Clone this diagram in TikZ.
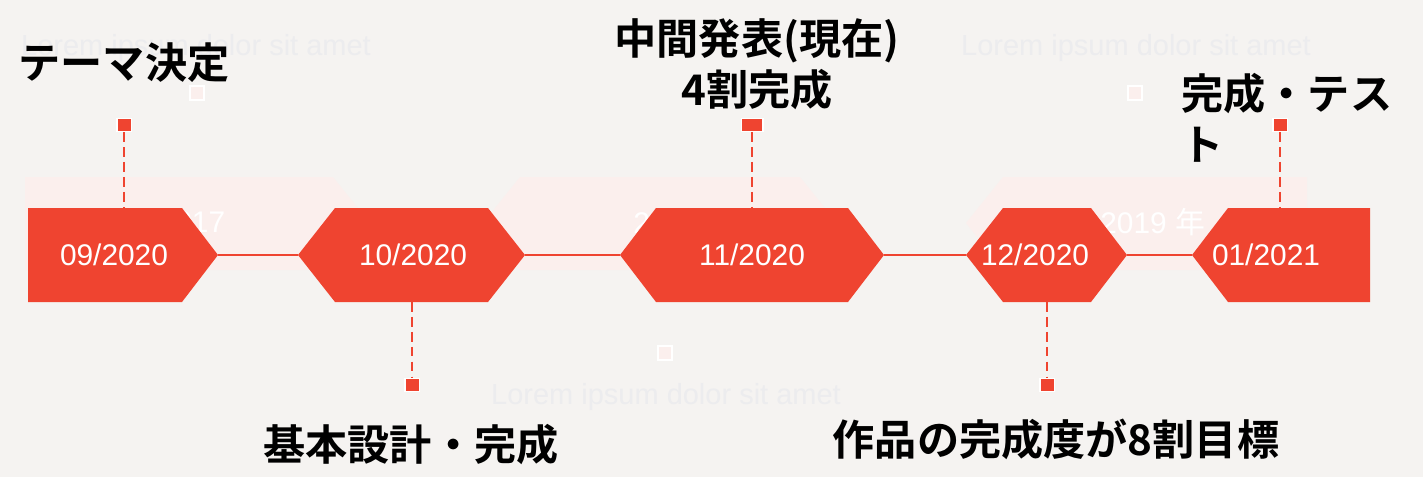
\documentclass[tikz,border=0pt]{standalone}
\usepackage{fontspec}
\setmainfont{Liberation Sans}
\newfontfamily\jpfont{Noto Sans CJK JP Bold}
\newfontfamily\jplight{Noto Sans CJK JP}
\usetikzlibrary{calc}
\definecolor{datered}{HTML}{EF4430}
\definecolor{paper}{HTML}{F5F3F1}
\definecolor{ghostpink}{HTML}{FBEFED}
\definecolor{ghostgrey}{HTML}{ECECEE}
\newcommand{\stage}[7]{\fill[datered] (#2,255) -- (#3,208) -- (#4,208) -- (#5,255) -- (#4,302) -- (#3,302) -- cycle;
  \coordinate (#1-l) at (#2,255); \coordinate (#1-r) at (#5,255);
  \node[datelabel] (#1) at (#6,255) {#7};}
\newcommand{\ghost}[4]{\fill[ghostpink] (#1,223) -- (#2,177) -- (#3,177) -- (#4,223) -- (#3,270) -- (#2,270) -- cycle;}

\begin{document}
\begin{tikzpicture}[x=0.02cm, y=-0.02cm,
    datelabel/.style={inner sep=0pt, text=white, font=\fontsize{17}{20}\selectfont},
    milestone/.style={inner sep=0pt, font=\jpfont\fontsize{24}{29}\selectfont},
    loremtext/.style={inner sep=0pt, text=ghostgrey, font=\fontsize{16.5}{20}\selectfont},
    yeartext/.style={inner sep=0pt, text=white, font=\fontsize{17}{20}\selectfont},
    marker/.style={draw=white, fill=datered, line width=0.6pt, inner sep=0pt, minimum width=8pt, minimum height=7.5pt},
    ghostbox/.style={draw=white, fill=ghostpink, line width=1.2pt, inner sep=0pt, minimum size=8pt},
    timeline/.style={datered, line width=1.7pt},
    leader/.style={datered, line width=1.1pt, dash pattern=on 5.5pt off 3pt}]
        \fill[paper] (0,0) rectangle (1423,477);
        \useasboundingbox (0,0) rectangle (1423,477);
        % faint background layer
        \ghost{25}{25}{333}{370}
        \ghost{483}{520}{800}{837}
        \ghost{966}{1003}{1307}{1307}
        \node[loremtext] (lorem1) at (196,48) {Lorem ipsum dolor sit amet};
        \node[loremtext] (lorem2) at (1136,48) {Lorem ipsum dolor sit amet};
        \node[loremtext] (lorem3) at (666,397) {Lorem ipsum dolor sit amet};
        \node[ghostbox] (g1) at (197,93) {};
        \node[ghostbox] (g2) at (1135,93) {};
        \node[ghostbox] (g3) at (665,353) {};
        \node[yeartext] (y1) at (192,222) {2017};
        \node[yeartext, anchor=west] (y2) at (633,222) {2018 {\jplight 年}};
        \node[yeartext, anchor=west] (y3) at (1100,222) {2019 {\jplight 年}};
        % stages
        \stage{s1}{28}{28}{182}{218}{114}{09/2020}
        \stage{s2}{298}{335}{488}{525}{413}{10/2020}
        \stage{s3}{620}{656}{848}{884}{752}{11/2020}
        \stage{s4}{966}{1003}{1091}{1127}{1035}{12/2020}
        \stage{s5}{1192}{1228}{1370}{1370}{1266}{01/2021}
        \draw[timeline] (s1-r) -- (s2-l);
        \draw[timeline] (s2-r) -- (s3-l);
        \draw[timeline] (s3-r) -- (s4-l);
        \draw[timeline] (s4-r) -- (s5-l);
        % markers
        \node[marker] (m1) at (124,125) {};
        \node[marker] (m2) at (412,385) {};
        \node[marker, minimum width=12.5pt] (m3) at (752,125) {};
        \node[marker] (m4) at (1047,385) {};
        \node[marker] (m5) at (1280,125) {};
        \coordinate (s1-top) at (124,208);
        \coordinate (s2-bot) at (412,302);
        \coordinate (s3-top) at (752,208);
        \coordinate (s4-bot) at (1047,302);
        \coordinate (s5-top) at (1280,208);
        \draw[leader] (m1.south) -- (s1-top);
        \draw[leader] (s2-bot) -- (m2.north);
        \draw[leader] (m3.south) -- (s3-top);
        \draw[leader] (s4-bot) -- (m4.north);
        \draw[leader] (m5.south) -- (s5-top);
        % milestone texts
        \node[milestone] (t1) at (124,63) {テーマ決定};
        \node[milestone, align=center] (t3) at (757,64) {中間発表(現在)\\4割完成};
        \node[milestone, align=left, anchor=west] (t5) at (1181,118) {完成・テス\\ト};
        \node[milestone] (t2) at (411,445) {基本設計・完成};
        \node[milestone] (t4) at (1056,439) {作品の完成度が8割目標};
\end{tikzpicture}
\end{document}
